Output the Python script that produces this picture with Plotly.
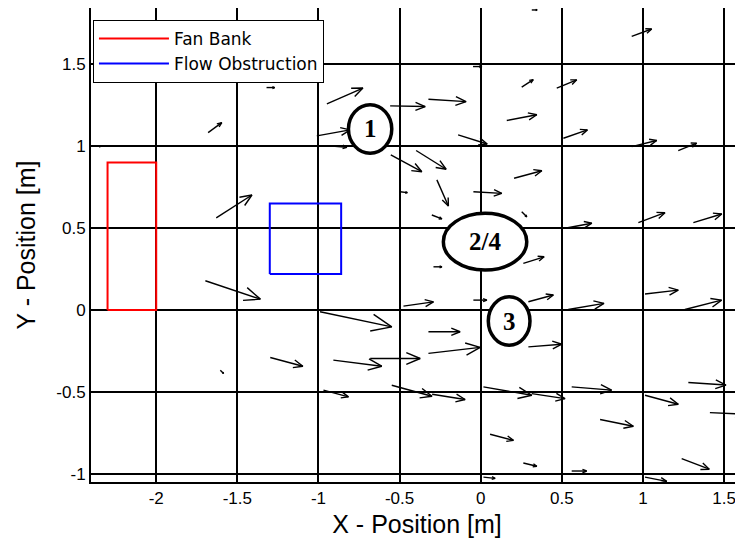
import math
import plotly.graph_objects as go
import plotly.figure_factory as ff

# ---- data ----
x_ticks = [-2, -1.5, -1, -0.5, 0, 0.5, 1, 1.5]
x_tick_labels = ["-2", "-1.5", "-1", "-0.5", "0", "0.5", "1", "1.5"]
y_ticks = [-1, -0.5, 0, 0.5, 1, 1.5]
y_tick_labels = ["-1", "-0.5", "0", "0.5", "1", "1.5"]

fan_x = [-2.3, -2.0, -2.0, -2.3, -2.3]
fan_y = [0.0, 0.0, 0.9, 0.9, 0.0]
obs_x = [-1.3, -0.86, -0.86, -1.3, -1.3]
obs_y = [0.22, 0.22, 0.65, 0.65, 0.22]

# velocity vectors: position (qx, qy) and components (qu, qv)
qx = [-1.680, -1.630, -1.320, -0.948, -0.558, -0.322, -0.139, -0.554, -0.398, -0.270,
      -0.497, -0.301, -0.047, 0.253, 0.469, 0.161, 0.510, 0.931, 1.218, 0.931,
      0.206, -0.045, 0.253, 0.520, 0.972, 1.311, 0.263, -0.291, 0.315, 0.294,
      0.540, 1.013, 1.259, -0.045, 0.294, -0.548, -0.299, 0.017, 0.315, 0.561,
      1.013, 1.280, 1.413, 0.736, 0.058, 0.263, 1.239, 0.561, 1.013, 0.017,
      -0.322, -0.322, -0.476, -0.990, -0.681, -0.908, -1.297, -1.605, -0.969, -1.697,
      -2.357, -1.010, -0.917]
qy = [1.082, 0.562, 1.357, 1.258, 1.245, 1.286, 1.068, 0.946, 0.973, 0.794,
      0.722, 0.580, 1.485, 1.360, 1.353, 1.156, 1.048, 0.997, 0.973, 1.669,
      0.804, 0.722, 0.600, 0.499, 0.533, 0.533, 0.285, 0.264, 1.830, 0.051,
      0.004, 0.098, 0.004, 0.061, -0.224, -0.458, -0.513, -0.468, -0.509, -0.468,
      -0.519, -0.441, -0.625, -0.667, -0.757, -0.932, -0.905, -0.981, -1.018, -1.018,
      -0.264, -0.132, 0.024, -0.010, -0.295, -0.305, -0.289, -0.366, -0.488, 0.179,
      1.001, 1.062, 1.001]
qu = [0.084, 0.220, 0.050, 0.222, 0.216, 0.232, 0.179, 0.191, 0.185, 0.071,
      0.045, 0.062, 0.054, 0.071, 0.123, 0.185, 0.148, 0.154, 0.113, 0.123,
      0.171, 0.175, 0.031, 0.165, 0.164, 0.175, 0.128, 0.052, 0.033, 0.154,
      0.220, 0.205, 0.226, 0.083, 0.206, 0.248, 0.203, 0.298, 0.205, 0.246,
      0.205, 0.232, 0.216, 0.205, 0.144, 0.083, 0.170, 0.092, 0.134, 0.072,
      0.319, 0.195, 0.185, 0.442, 0.308, 0.298, 0.201, 0.020, 0.154, 0.339,
      0.012, 0.205, 0.092]
qv = [0.061, 0.140, 0.000, 0.096, -0.004, -0.015, -0.055, -0.102, -0.114, -0.159,
      -0.006, -0.024, 0.000, 0.045, 0.051, 0.035, 0.051, 0.037, 0.045, 0.045,
      0.046, -0.010, -0.031, 0.031, 0.061, 0.053, 0.040, 0.000, 0.000, 0.041,
      0.037, 0.024, 0.057, 0.000, 0.016, -0.067, -0.032, -0.051, -0.031, -0.020,
      -0.055, -0.016, -0.010, -0.041, -0.037, -0.020, -0.065, 0.000, -0.026, -0.008,
      0.037, 0.000, 0.026, -0.092, 0.000, -0.037, -0.053, -0.020, -0.041, -0.112,
      -0.006, 0.037, -0.008]

labels = ["1", "2/4", "3"]
label_x0 = [-0.815, -0.230, 0.047]
label_x1 = [-0.548, 0.284, 0.304]
label_y0 = [0.957, 0.244, -0.214]
label_y1 = [1.252, 0.590, 0.081]

# ---- figure ----
fig = ff.create_quiver(qx, qy, qu, qv, scale=1, arrow_scale=0.3, angle=math.pi / 8,
                       line=dict(color="black", width=1.4))
fig.update_traces(showlegend=False, hoverinfo="skip")

fig.add_trace(go.Scatter(x=fan_x, y=fan_y, mode="lines", name="Fan Bank",
                         line=dict(color="#ff0000", width=2)))
fig.add_trace(go.Scatter(x=obs_x, y=obs_y, mode="lines", name="Flow Obstruction",
                         line=dict(color="#0000ff", width=2)))

for lab, a0, a1, b0, b1 in zip(labels, label_x0, label_x1, label_y0, label_y1):
    fig.add_shape(type="circle", xref="x", yref="y", x0=a0, x1=a1, y0=b0, y1=b1,
                  line=dict(color="black", width=3.5), fillcolor="white", layer="above")
    fig.add_annotation(x=(a0 + a1) / 2, y=(b0 + b1) / 2, text="<b>%s</b>" % lab,
                       showarrow=False, xref="x", yref="y",
                       font=dict(family="Liberation Serif", size=25, color="black"))

# the page body has an 8px default margin, so the figure is sized to fill the rest
fig.update_layout(
    width=735, height=546,
    margin=dict(l=83, r=0, t=0, b=72),
    paper_bgcolor="white", plot_bgcolor="white",
    font=dict(family="Liberation Sans", color="black"),
    showlegend=True,
    legend=dict(x=0.003, y=0.975, xanchor="left", yanchor="top",
                bgcolor="white", bordercolor="black", borderwidth=1,
                font=dict(size=17, family="DejaVu Sans"),
                itemwidth=70, tracegroupgap=0),
    xaxis=dict(range=[-2.402, 1.617], tickvals=x_ticks, ticktext=x_tick_labels,
               showgrid=True, gridcolor="black", gridwidth=2, zeroline=False,
               showline=True, linecolor="black", linewidth=2, mirror=False,
               ticks="inside", ticklen=3, tickcolor="black", automargin=False,
               tickfont=dict(size=17), title=dict(text="X - Position [m]", font=dict(size=25), standoff=8)),
    yaxis=dict(range=[-1.048, 1.842], tickvals=y_ticks, ticktext=y_tick_labels,
               showgrid=True, gridcolor="black", gridwidth=2, zeroline=False,
               showline=True, linecolor="black", linewidth=2, mirror=False,
               ticks="inside", ticklen=3, tickcolor="black", automargin=False,
               tickfont=dict(size=17), title=dict(text="Y - Position [m]", font=dict(size=25), standoff=14)),
)

fig.write_html("out.html")
